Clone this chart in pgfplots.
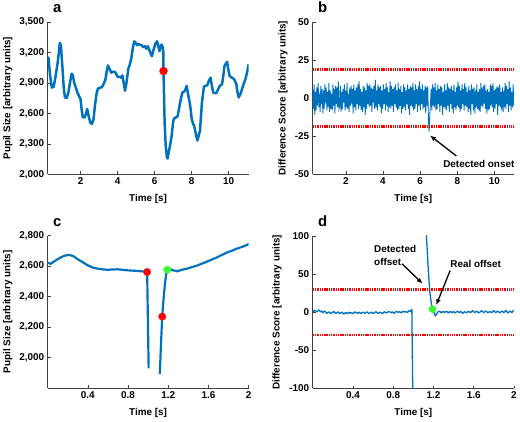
\documentclass[border=0pt]{standalone}
\usepackage{fontspec}
\setmainfont{Liberation Sans}
\usepackage{pgfplots}
\pgfplotsset{compat=1.18}
\usetikzlibrary{arrows.meta}
\definecolor{mblue}{rgb}{0,0.447,0.741}
\definecolor{mgreen}{rgb}{0.2,1,0.2}
\newcommand{\labfont}{\bfseries\fontsize{10}{13}\selectfont}
\newcommand{\letfont}{\bfseries\fontsize{15}{15}\selectfont}
\tikzset{arr/.style={-{Latex[length=6pt,width=5pt]}, line width=1.3pt, black},
  thr/.style={red, line width=2.8pt, dash pattern=on 1.4pt off 0.9pt}}
\pgfplotsset{
  panel/.style={
    scale only axis, width=203pt, height=154pt,
    axis x line=bottom, axis y line=left,
    axis line style={-, line width=0.6pt, black!75},
    tick align=inside, major tick length=3pt,
    tick style={black!75, line width=0.5pt},
    scaled ticks=false,
    /pgf/number format/assume math mode=true,
    tick label style={font=\labfont},
    label style={font=\labfont},
    xlabel={Time [s]},
    xlabel style={at={(axis description cs:0.5,-0.162)}, anchor=center},
  },
}
\begin{document}
\begin{tikzpicture}
\path (0pt,0pt) rectangle (520pt,423pt);

% ---------- a ----------
\begin{axis}[panel, at={(45.7pt,247pt)}, anchor=south west,
  xmin=0.22, xmax=11.08, ymin=2000, ymax=3500,
  xtick={2,4,6,8,10}, ytick={2000,2300,2600,2900,3200,3500},
  ylabel={Pupil Size [arbitrary units]},
  ylabel style={at={(axis description cs:-0.197,0.5)}, anchor=center}]
\addplot[mblue, line width=2.5pt, line join=round] coordinates {
(0.22,3150)(0.27,3146)(0.35,2980)(0.45,2854)(0.55,2860)(0.65,2960)(0.75,3080)(0.82,3180)(0.88,3292)(0.94,3270)(1.02,3060)(1.09,2860)(1.16,2757)(1.25,2750)(1.34,2800)(1.43,2900)(1.52,2990)(1.58,2975)(1.66,2900)(1.75,2850)(1.84,2800)(1.91,2773)(2.0,2740)(2.06,2640)(2.12,2562)(2.22,2560)(2.30,2600)(2.36,2643)(2.45,2562)(2.54,2505)(2.62,2497)(2.70,2540)(2.78,2680)(2.87,2800)(2.94,2844)(3.05,2850)(3.16,2860)(3.25,2890)(3.34,2930)(3.42,3020)(3.48,3071)(3.56,3040)(3.66,3000)(3.75,3010)(3.87,3006)(3.94,2980)(4.01,2958)(4.12,2960)(4.20,2950)(4.26,2974)(4.33,2900)(4.40,2822)(4.48,2900)(4.58,3039)(4.66,3080)(4.73,3130)(4.82,3240)(4.90,3308)(4.97,3295)(5.05,3270)(5.12,3282)(5.20,3276)(5.30,3270)(5.38,3250)(5.47,3260)(5.55,3235)(5.63,3260)(5.74,3211)(5.85,3162)(5.95,3230)(6.05,3290)(6.13,3308)(6.20,3260)(6.26,3211)(6.32,3260)(6.38,3276)(6.44,3250)(6.47,3195)(6.48,3016)(6.54,2500)(6.60,2280)(6.66,2170)(6.70,2156)(6.76,2220)(6.85,2302)(6.92,2380)(7.00,2520)(7.06,2552)(7.15,2560)(7.24,2571)(7.32,2650)(7.40,2730)(7.50,2805)(7.60,2815)(7.67,2840)(7.73,2870)(7.80,2790)(7.86,2740)(7.94,2650)(8.00,2545)(8.07,2500)(8.13,2480)(8.22,2400)(8.31,2334)(8.38,2380)(8.45,2432)(8.55,2700)(8.66,2864)(8.75,2870)(8.84,2877)(8.93,2920)(9.02,2951)(9.08,2880)(9.16,2805)(9.25,2800)(9.34,2799)(9.43,2840)(9.52,2870)(9.64,2886)(9.70,2960)(9.77,3065)(9.85,3090)(9.91,3107)(9.98,3030)(10.05,2967)(10.17,2951)(10.30,2935)(10.41,2886)(10.48,2800)(10.54,2757)(10.63,2789)(10.72,2840)(10.80,2886)(10.90,2935)(11.00,3010)(11.07,3081)};
\addplot[only marks, mark=*, mark size=4pt, red, mark options={draw=none, fill=red}] coordinates {(6.48,3016)};
\end{axis}
\node[anchor=base west, font=\letfont, inner sep=0pt] at (51pt,410.7pt) {a};

% ---------- b ----------
\begin{axis}[panel, at={(313.3pt,247pt)}, anchor=south west,
  xmin=0.22, xmax=11.05, ymin=-50, ymax=50,
  xtick={2,4,6,8,10}, ytick={-50,-25,0,25,50},
  ylabel={Difference Score [arbitrary units]},
  ylabel style={at={(axis description cs:-0.148,0.5)}, anchor=center}]
\addplot[mblue, line width=0.9pt] table[row sep=\\, x expr=\coordindex*0.0362+0.22, y index=0] {
y\\
6\\ -7\\ 9\\ -11\\ 4\\ -8\\ 7\\ -5\\ 10\\ -6\\ 3\\ -9\\ 8\\ -4\\ 6\\ -10\\ 5\\ -7\\ 9\\ -3\\
7\\ -8\\ 4\\ -6\\ 10\\ -9\\ 5\\ -7\\ 3\\ -8\\ 9\\ -5\\ 6\\ -10\\ 8\\ -4\\ 7\\ -6\\ 11\\ -7\\
-5\\ 8\\ -9\\ 4\\ -7\\ 6\\ -3\\ 9\\ -8\\ 5\\ -6\\ 10\\ -7\\ 3\\ -9\\ 7\\ -5\\ 8\\ -4\\ 6\\
-10\\ 9\\ -6\\ 5\\ -8\\ 7\\ -4\\ 9\\ -7\\ 11\\ -5\\ 6\\ -8\\ 4\\ -9\\ 8\\ -6\\ 7\\ -11\\ 5\\
-7\\ 10\\ -4\\ 8\\ -6\\ 9\\ -5\\ 7\\ -9\\ 6\\ -3\\ 8\\ -7\\ 12\\ -6\\ 5\\ -8\\ 9\\ -4\\ 7\\
-6\\ 8\\ -10\\ 5\\ -7\\ 9\\ -4\\ 6\\ -8\\ 10\\ -5\\ 7\\ -9\\ 4\\ -6\\ 11\\ -7\\ 8\\ -5\\ 6\\
-9\\ 7\\ -4\\ 9\\ -6\\ 5\\ -8\\ 10\\ -7\\ 6\\ -5\\ 8\\ -10\\ 4\\ -7\\ 9\\ -6\\ 7\\ -8\\ 5\\
-4\\ 9\\ -7\\ 6\\ -11\\ 8\\ -5\\ 7\\ -6\\ 10\\ -8\\ 5\\ -7\\ 9\\ -4\\ 6\\ -9\\ 8\\ -5\\ 11\\
-8\\ 6\\ -4\\ 9\\ -7\\ 5\\ -6\\ 8\\ -10\\ 7\\ -5\\ 8\\ -14\\ -22\\ -11\\ -4\\ 6\\ -8\\ 9\\ -5\\
7\\ -6\\ 10\\ -8\\ 5\\ -7\\ 9\\ -4\\ 6\\ -9\\ 8\\ -5\\ 7\\ -11\\ 4\\ -6\\ 9\\ -7\\ 5\\ -8\\
10\\ -5\\ 7\\ -9\\ 6\\ -4\\ 8\\ -7\\ 5\\ -10\\ 9\\ -6\\ 4\\ -8\\ 7\\ -5\\ 11\\ -6\\ 8\\ -9\\
5\\ -7\\ 9\\ -4\\ 6\\ -8\\ 10\\ -5\\ 7\\ -6\\ 4\\ -9\\ 8\\ -7\\ 5\\ -11\\ 9\\ -4\\ 6\\ -8\\
7\\ -10\\ 5\\ -6\\ 9\\ -7\\ 4\\ -8\\ 6\\ -9\\ 10\\ -5\\ 7\\ -6\\ 8\\ -4\\ 9\\ -7\\ 5\\ -10\\
6\\ -8\\ 4\\ -7\\ 9\\ -5\\ 8\\ -6\\ 10\\ -9\\ 5\\ -7\\ 6\\ -4\\ 8\\ -11\\ 7\\ -5\\ 9\\ -6\\
4\\ -8\\ 7\\ -9\\ 5\\ -6\\ 10\\ -7\\ 8\\ -4\\ 6\\ -9\\ 11\\ -5\\ 7\\ -8\\ 4\\ -6\\ 9\\ -5\\
};
\addplot[thr] coordinates {(0.22,18.8)(11.05,18.8)};
\addplot[thr] coordinates {(0.22,-18.8)(11.05,-18.8)};
\draw[arr] (axis cs:7.95,-37.9) -- (axis cs:6.53,-24.5);
\node[font=\labfont] at (axis cs:9.16,-43.2) {Detected onset};
\end{axis}
\node[anchor=base west, font=\letfont, inner sep=0pt] at (318.5pt,410.7pt) {b};

% ---------- c ----------
\begin{axis}[panel, at={(45.7pt,31.3pt)}, anchor=south west,
  xmin=0, xmax=2, ymin=1800, ymax=2800,
  xtick={0.4,0.8,1.2,1.6,2}, ytick={2000,2200,2400,2600,2800},
  ylabel={Pupil Size [arbitrary units]},
  ylabel style={at={(axis description cs:-0.197,0.5)}, anchor=center}]
\addplot[mblue, line width=2.2pt, line join=round] coordinates {
(0.00,2622)(0.03,2615)(0.06,2628)(0.10,2645)(0.14,2660)(0.18,2670)(0.22,2673)(0.26,2664)(0.30,2645)(0.35,2625)(0.40,2605)(0.45,2590)(0.50,2583)(0.55,2578)(0.60,2576)(0.65,2578)(0.70,2579)(0.75,2575)(0.80,2572)(0.85,2570)(0.90,2568)(0.95,2565)(0.99,2561)(1.005,1930)};
\addplot[mblue, line width=2.2pt, line join=round] coordinates {
(1.116,1892)(1.127,2080)(1.14,2269)(1.155,2400)(1.17,2500)(1.18,2550)(1.19,2576)(1.21,2582)(1.25,2572)(1.29,2566)(1.33,2575)(1.38,2582)(1.43,2592)(1.48,2602)(1.53,2615)(1.58,2628)(1.63,2642)(1.68,2656)(1.73,2672)(1.78,2688)(1.83,2700)(1.88,2714)(1.93,2725)(1.97,2735)(2.00,2744)};
\addplot[only marks, mark=*, mark size=3.7pt, red, mark options={draw=none, fill=red}] coordinates {(0.99,2561)(1.14,2269)};
\addplot[only marks, mark=*, mark size=3.7pt, mgreen, mark options={draw=none, fill=mgreen}] coordinates {(1.19,2576)};
\end{axis}
\node[anchor=base west, font=\letfont, inner sep=0pt] at (51pt,194.7pt) {c};

% ---------- d ----------
\begin{axis}[panel, at={(313.3pt,31pt)}, anchor=south west,
  xmin=0, xmax=2, ymin=-100, ymax=100,
  xtick={0.4,0.8,1.2,1.6,2}, ytick={-100,-50,0,50,100},
  ylabel={Difference Score [arbitrary units]},
  ylabel style={at={(axis description cs:-0.177,0.5)}, anchor=center}]
\addplot[mblue, line width=1.3pt, line join=round] coordinates {
(0.00,2)(0.01,1)(0.02,2.5)(0.03,1.5)(0.04,0.5)(0.05,1.5)(0.06,3)(0.07,1.5)(0.08,0.5)(0.09,1.5)(0.10,-0.5)(0.11,0.5)(0.12,1.5)(0.13,0)(0.14,-1.5)(0.15,-0.5)(0.16,0.5)(0.17,-1)(0.18,-2)(0.19,-0.5)(0.20,0)(0.21,1)(0.22,-0.5)(0.23,-1.5)(0.24,-1)(0.25,0.5)(0.26,-0.5)(0.27,-2)(0.28,-1)(0.29,0)(0.30,-1.5)(0.31,-2.5)(0.32,-1)(0.33,-0.5)(0.34,-2)(0.35,-1)(0.36,0)(0.37,-1.5)(0.38,-0.5)(0.39,-1)(0.40,-2)(0.41,-0.5)(0.42,0.5)(0.43,-1)(0.44,-0.5)(0.45,-1.5)(0.46,0)(0.47,-1)(0.48,-2)(0.49,-0.5)(0.50,0)(0.51,-1)(0.52,-1.5)(0.53,-0.5)(0.54,0.5)(0.55,-1)(0.56,-2)(0.57,-1)(0.58,0)(0.59,-0.5)(0.60,-1.5)(0.61,-1)(0.62,0)(0.63,0.5)(0.64,-0.5)(0.65,-1.5)(0.66,-1)(0.67,0)(0.68,-0.5)(0.69,-2)(0.70,-1)(0.71,0.5)(0.72,0)(0.73,-1)(0.74,-0.5)(0.75,0.5)(0.76,1)(0.77,0)(0.78,-1)(0.79,0.5)(0.80,-0.5)(0.81,-1.5)(0.82,0)(0.83,1)(0.84,0.5)(0.85,-0.5)(0.86,1)(0.87,0)(0.88,-1)(0.89,0.5)(0.90,1.5)(0.91,0)(0.92,1)(0.93,0.5)(0.94,-0.5)(0.95,1)(0.96,2)(0.97,1)(0.98,2.5)(0.985,4)(0.997,-140)};
\addplot[mblue, line width=1.3pt, line join=round] coordinates {
(1.115,160)(1.13,100)(1.15,52)(1.165,25)(1.18,10)(1.19,4)(1.20,1)(1.21,-2)(1.22,-5)(1.23,-3)(1.24,0)(1.25,0.5)(1.26,1.5)(1.27,0)(1.28,-1)(1.29,0.5)(1.30,1)(1.31,-0.5)(1.32,0.5)(1.33,1.5)(1.34,0)(1.35,-1)(1.36,0.5)(1.37,1)(1.38,-0.5)(1.39,0)(1.40,1)(1.41,-1)(1.42,-0.5)(1.43,0.5)(1.44,1.5)(1.45,0)(1.46,-0.5)(1.47,1)(1.48,0)(1.49,-1.5)(1.50,-0.5)(1.51,0.5)(1.52,0)(1.53,-1)(1.54,0.5)(1.55,1)(1.56,0)(1.57,-0.5)(1.58,1)(1.59,2)(1.60,0.5)(1.61,-0.5)(1.62,0.5)(1.63,1.5)(1.64,0)(1.65,-1)(1.66,0)(1.67,1)(1.68,2)(1.69,0.5)(1.70,-0.5)(1.71,0.5)(1.72,1.5)(1.73,0.5)(1.74,-1)(1.75,0)(1.76,1)(1.77,0)(1.78,-0.5)(1.79,1)(1.80,2)(1.81,0.5)(1.82,-0.5)(1.83,0.5)(1.84,1.5)(1.85,0)(1.86,-1)(1.87,0.5)(1.88,1.5)(1.89,0.5)(1.90,-0.5)(1.91,1)(1.92,2.5)(1.93,0.5)(1.94,-1)(1.95,0)(1.96,1.5)(1.97,0.5)(1.98,-0.5)(1.99,1.5)(2.00,2.5)};
\addplot[thr] coordinates {(0,30)(2,30)};
\addplot[thr] coordinates {(0,-30)(2,-30)};
\addplot[only marks, mark=*, mark size=3.6pt, mgreen, mark options={draw=none, fill=mgreen}] coordinates {(1.19,4)};
\node[font=\labfont, anchor=west, align=left, inner sep=0pt] at (axis cs:0.609,74) {Detected\\offset};
\draw[arr] (axis cs:0.888,63.3) -- (axis cs:1.092,37.4);
\node[font=\labfont] at (axis cs:1.62,63.3) {Real offset};
\draw[arr] (axis cs:1.366,54.6) -- (axis cs:1.227,9.3);
\end{axis}
\node[anchor=base west, font=\letfont, inner sep=0pt] at (318.5pt,194.7pt) {d};
\end{tikzpicture}
\end{document}
